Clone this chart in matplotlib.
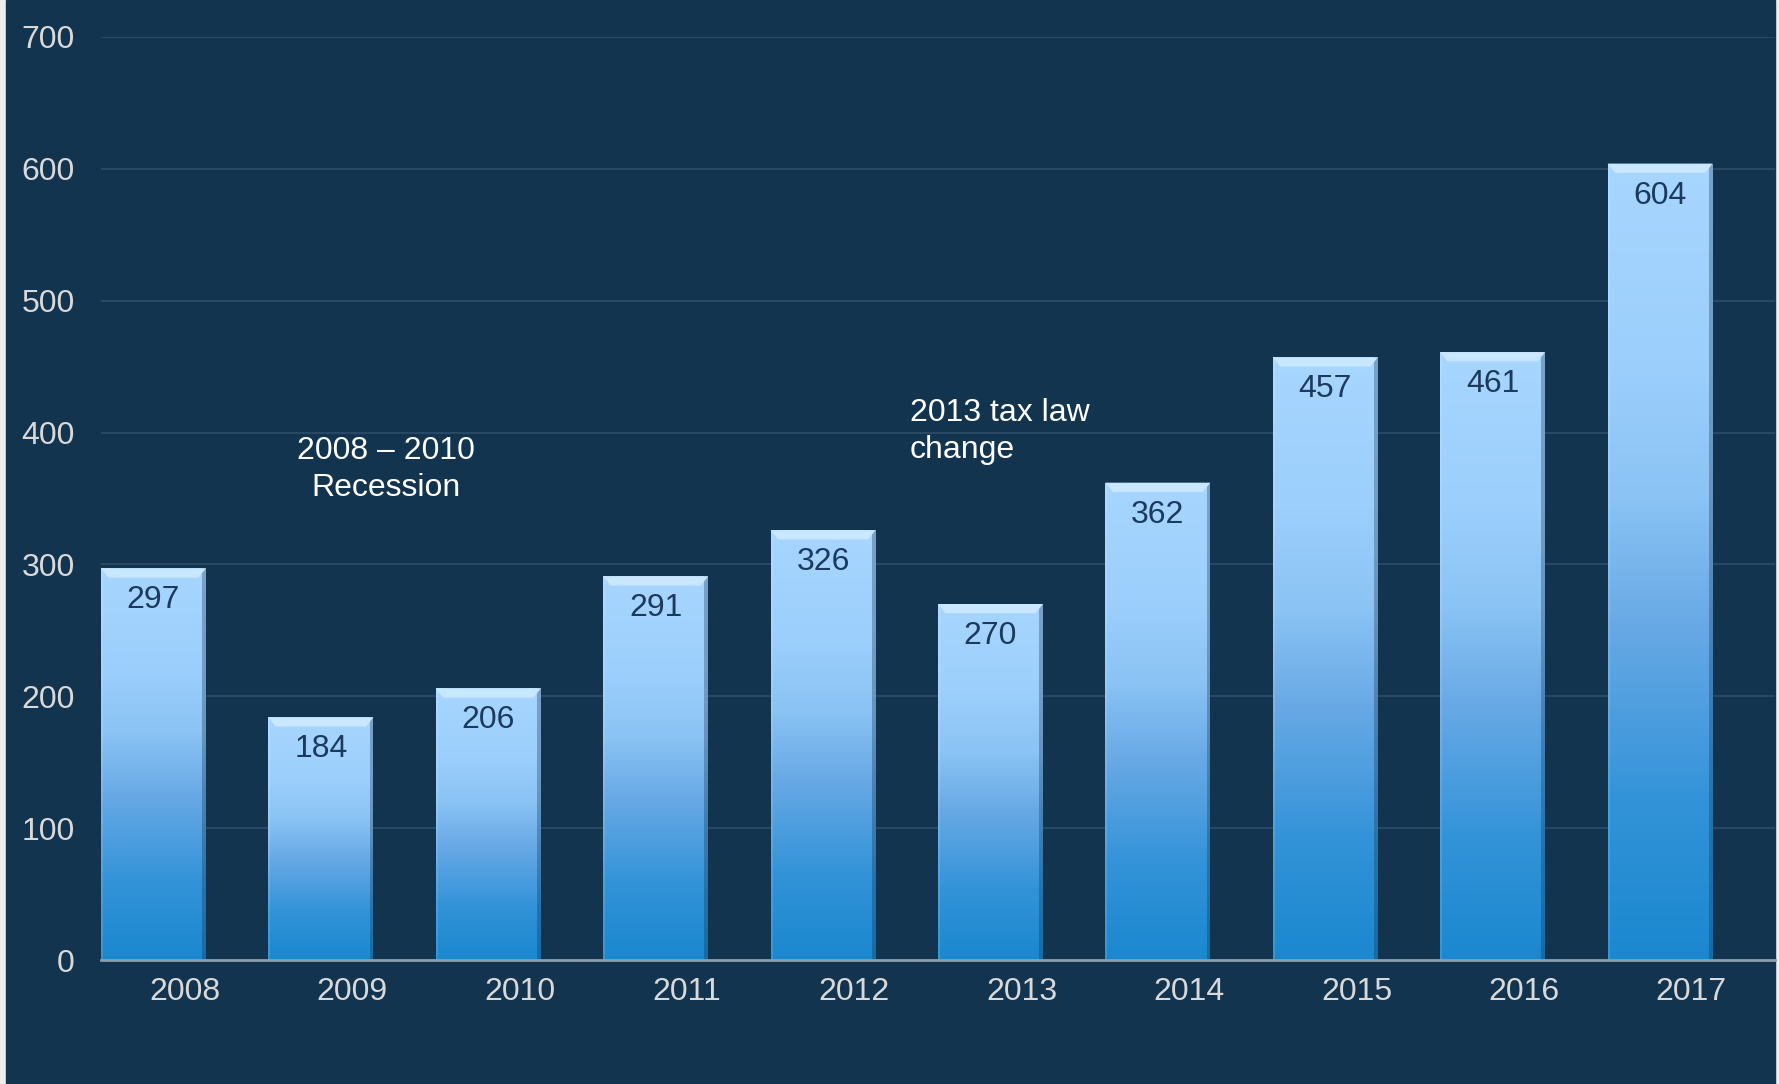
import numpy as np
import matplotlib.pyplot as plt
from matplotlib.colors import LinearSegmentedColormap
from matplotlib.patches import Rectangle, Polygon

plt.rcParams['font.family'] = ['Liberation Sans', 'DejaVu Sans']

# Data
years = ['2008', '2009', '2010', '2011', '2012', '2013', '2014', '2015', '2016', '2017']
values = [297, 184, 206, 291, 326, 270, 362, 457, 461, 604]
yticks = [0, 100, 200, 300, 400, 500, 600, 700]

bg = '#13344f'
grid_col = '#2b4b68'
tick_col = '#d9d9d9'
label_col = '#1c3a5e'

# bar gradient: light at top, deeper blue at bottom
bar_cmap = LinearSegmentedColormap.from_list(
    'bar', [(0.0, '#1a88cf'), (0.2, '#3393d8'), (0.42, '#68a9e5'),
            (0.58, '#8ac3f4'), (0.75, '#9ccffc'), (1.0, '#a7d6ff')])

fig = plt.figure(figsize=(17.79, 10.84), dpi=100, facecolor='#eeeeee')
# dark panel behind the chart
fig.patches.append(Rectangle((6 / 1779, 0), (1775 - 6) / 1779, 1.0,
                             transform=fig.transFigure, color=bg, zorder=-5))

ax = fig.add_axes([101 / 1779, 124 / 1084, (1775 - 101) / 1779, (960 - 37) / 1084])
ax.patch.set_alpha(0)

bar_w = 0.627
x = np.arange(len(years))
bars = ax.bar(x - 0.5, values, width=bar_w, align='edge', color='none', zorder=3)

grad = np.linspace(0, 1, 256).reshape(-1, 1)
for b, v in zip(bars, values):
    x0, w = b.get_x(), b.get_width()
    im = ax.imshow(grad, cmap=bar_cmap, origin='lower', aspect='auto',
                   extent=[x0, x0 + w, 0, v], zorder=3)
    im.set_clip_path(b)
    # soft edge shading on the sides
    ax.add_patch(Rectangle((x0 + w * 0.965, 0), w * 0.035, v,
                           color='#0d2a45', alpha=0.3, lw=0, zorder=4))
    ax.add_patch(Rectangle((x0, 0), w * 0.02, v,
                           color='#ffffff', alpha=0.12, lw=0, zorder=4))
    # bevel on top
    h = 7.0
    inset = w * 0.07
    ax.add_patch(Polygon([[x0, v], [x0 + w, v], [x0 + w - inset, v - h], [x0 + inset, v - h]],
                         closed=True, color='#c9e8ff', lw=0, zorder=5))
    ax.annotate(str(v), (x0 + w / 2, v), xytext=(0, -23), textcoords='offset points',
                ha='center', va='center', fontsize=23, color=label_col, zorder=6)

ax.set_xlim(-0.5, len(years) - 0.5)
ax.set_ylim(0, 700)
ax.set_xticks(x)
ax.set_xticklabels(years)
ax.set_yticks(yticks)
ax.tick_params(axis='x', length=0, pad=12, labelsize=23, labelcolor=tick_col)
ax.tick_params(axis='y', length=0, pad=19, labelsize=23, labelcolor=tick_col)

ax.grid(axis='y', color=grid_col, lw=1.3, zorder=1)
ax.set_axisbelow(True)
for s in ['top', 'right', 'left']:
    ax.spines[s].set_visible(False)
ax.spines['bottom'].set_color('#8d9dab')
ax.spines['bottom'].set_linewidth(2)
ax.spines['bottom'].set_zorder(7)

# annotations
ax.text(1.20, 372, '2008 \u2013 2010\nRecession', ha='center', va='center',
        fontsize=23, color='white', linespacing=1.3)
ax.text(4.33, 401, '2013 tax law\nchange', ha='left', va='center',
        fontsize=23, color='white', linespacing=1.3)

fig.savefig('out.png', dpi=100, facecolor=fig.get_facecolor())
